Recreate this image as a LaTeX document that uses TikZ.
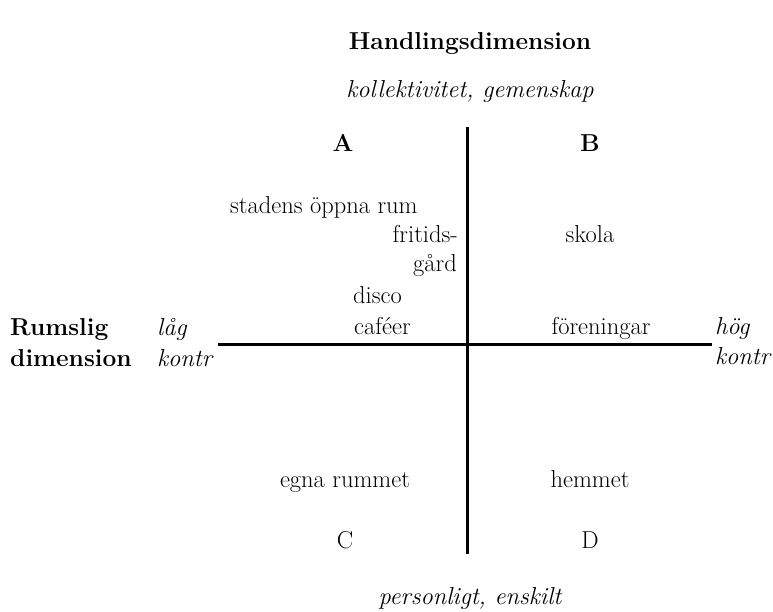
\documentclass[tikz,border=0pt]{standalone}
\usetikzlibrary{positioning}

\newcommand{\diagfont}{\fontsize{24.5}{29}\selectfont}

\begin{document}
\begin{tikzpicture}[x=1pt, y=-1pt,
    lbl/.style={inner sep=0pt, anchor=base, font=\diagfont},
    head/.style={lbl, font=\diagfont\bfseries},
    note/.style={lbl, font=\diagfont\itshape},
    axis/.style={line width=3pt},
]
  \useasboundingbox (0,0) rectangle (773,612);

  % Axes
  \coordinate (vtop) at (467,127);
  \coordinate (vbot) at (467,554);
  \coordinate (hleft) at (218,344);
  \coordinate (hright) at (712,344);
  \draw[axis] (vtop) -- (vbot);
  \draw[axis] (hleft) -- (hright);

  % Handlingsdimension (vertical)
  \node[head] (hdim) at (470,50) {Handlingsdimension};
  \node[note] (koll) at (470,98) {kollektivitet, gemenskap};
  \node[note] (pers) at (470,604) {personligt, enskilt};

  % Rumslig dimension (horizontal)
  \node[head, anchor=base west] (rums) at (10,335) {Rumslig};
  \node[head, anchor=base west] (rdim) at (10,366) {dimension};
  \node[note, anchor=base west] (lag) at (157,335) {l\aa g};
  \node[note, anchor=base west] (kontrL) at (157,366) {kontr};
  \node[note, anchor=base west] (hog) at (715,334) {h\"og};
  \node[note, anchor=base west] (kontrR) at (715,364) {kontr};

  % Quadrant letters
  \node[head] (qA) at (343,152) {A};
  \node[head] (qB) at (590,152) {B};
  \node[lbl] (qC) at (345,548) {C};
  \node[lbl] (qD) at (590,548) {D};

  % Quadrant A
  \node[lbl, anchor=base west] (stad) at (230,214) {stadens \"oppna rum};
  \node[lbl, anchor=base east] (frit) at (458,243) {fritids-};
  \node[lbl, anchor=base east] (gard) at (457,272) {g\aa rd};
  \node[lbl, anchor=base west] (disc) at (353,303) {disco};
  \node[lbl, anchor=base west] (cafe) at (354,334) {caf\'eer};

  % Quadrant B
  \node[lbl] (skol) at (590,243) {skola};
  \node[lbl] (fore) at (601,334) {f\"oreningar};

  % Quadrants C and D
  \node[lbl] (egna) at (345,487) {egna rummet};
  \node[lbl] (hemm) at (590,487) {hemmet};
\end{tikzpicture}
\end{document}
